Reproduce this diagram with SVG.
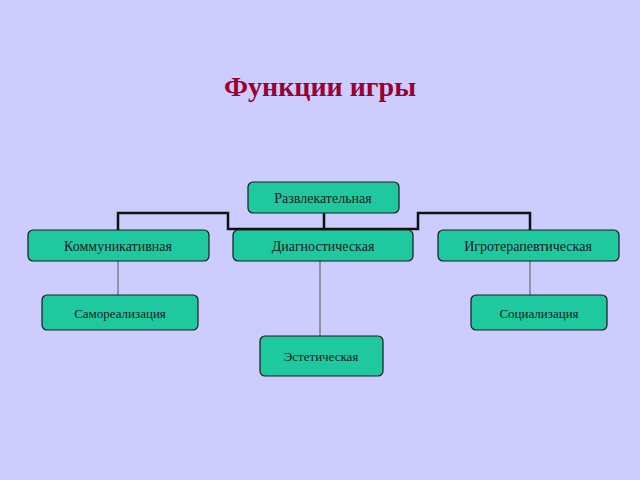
<svg xmlns="http://www.w3.org/2000/svg" width="640" height="480" viewBox="0 0 640 480">
<style>
.n rect{fill:#1ec9a0;stroke:#1a1a1a;stroke-width:1.2}
.n text{font-family:"Liberation Serif",serif;font-size:14px;fill:#1a1a1a;text-anchor:middle}
.c path{fill:none;stroke:#111;stroke-width:2.5}
.t line{stroke:#555;stroke-width:1}
</style>
<rect width="640" height="480" fill="#ccccff"/>
<text x="320" y="96" font-family="Liberation Serif,serif" font-size="28" font-weight="bold" fill="#990033" text-anchor="middle">Функции игры</text>
<g class="c">
<path d="M118 230V213H228V229H324"/>
<path d="M324 213V229"/>
<path d="M324 229H418V213H530V230"/>
</g>
<g class="t">
<line x1="118" y1="261" x2="118" y2="295"/>
<line x1="320" y1="261" x2="320" y2="336"/>
<line x1="530" y1="261" x2="530" y2="295"/>
</g>
<g id="razvl" class="n"><rect x="248" y="182" width="151" height="31" rx="5"/><text x="323" y="203">Развлекательная</text></g>
<g id="komm" class="n"><rect x="28" y="230" width="181" height="31" rx="5"/><text x="118" y="251">Коммуникативная</text></g>
<g id="diag" class="n"><rect x="233" y="230" width="180" height="31" rx="5"/><text x="323" y="251">Диагностическая</text></g>
<g id="igro" class="n"><rect x="438" y="230" width="181" height="31" rx="5"/><text x="528" y="251">Игротерапевтическая</text></g>
<g id="samo" class="n"><rect x="42" y="295" width="156" height="35" rx="5"/><text x="120" y="318" style="font-size:13px">Самореализация</text></g>
<g id="soc" class="n"><rect x="471" y="295" width="136" height="35" rx="5"/><text x="539" y="318" style="font-size:13px">Социализация</text></g>
<g id="est" class="n"><rect x="260" y="336" width="123" height="40" rx="5"/><text x="321" y="361" style="font-size:13px">Эстетическая</text></g>
</svg>
